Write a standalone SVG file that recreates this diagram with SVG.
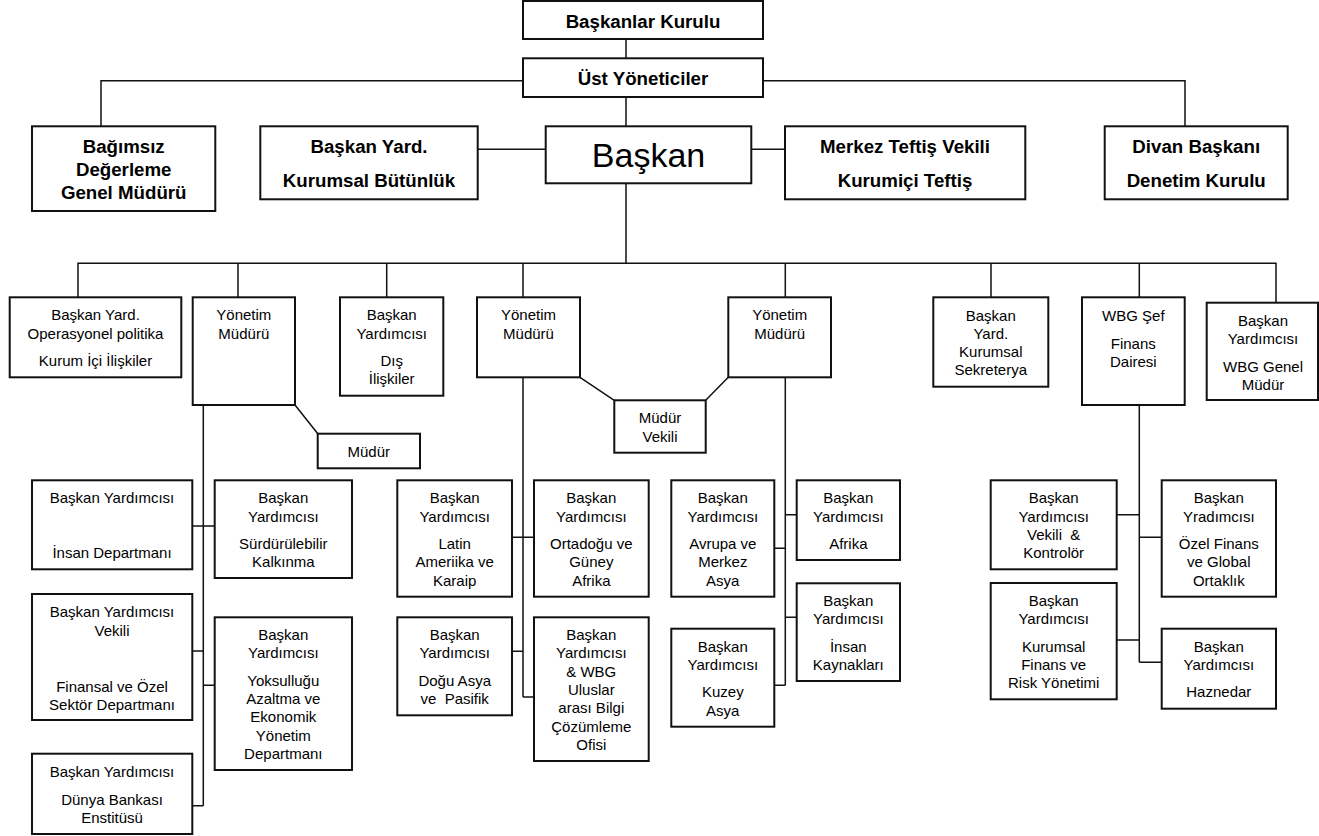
<svg xmlns="http://www.w3.org/2000/svg" width="1319" height="836" viewBox="0 0 1319 836">
  <style>
    .box { fill: #fff; stroke: #111; stroke-width: 2; }
    .wire { fill: none; stroke: #111; stroke-width: 1.5; }
    .hd { font-family: "Liberation Sans", Arial, sans-serif; font-weight: bold; font-size: 18.7px; fill: #000; text-anchor: middle; }
    .big { font-family: "Liberation Sans", Arial, sans-serif; font-size: 34px; fill: #000; text-anchor: middle; }
    .t { font-family: "Liberation Sans", Arial, sans-serif; font-size: 15px; fill: #000; text-anchor: middle; }
  </style>
  <rect width="1319" height="836" fill="#fff"/>

  <!-- connectors -->
  <g id="connectors" class="wire">
    <path d="M626 39V58M626 97V126M101 126V80.7H1185V126M478 149.3H546M751 149.3H785"/>
    <path d="M626 183V263.3M78 297V263.3H1276V302.7M238 263.3V297M386.7 263.3V297M523 263.3V297M785.3 263.3V297M991 263.3V297M1139.3 263.3V297"/>
    <!-- Yönetim Müdürü (left) branch -->
    <path d="M295 405L318 434M203.3 405V805.7M192 526H215M192 651H203.3M203.3 685.3H215M192 805.7H203.3"/>
    <!-- Yönetim Müdürü (middle) branch -->
    <path d="M580 377.3L614.3 400.3M728.3 377.3L705.7 400.3M523 377.3V697M512 537.3H534M512 651.3H523M523 697H534"/>
    <!-- Yönetim Müdürü (right) branch -->
    <path d="M785.3 377.3V685.3M785.3 514.7H797M774 548.3H785.3M785.3 617.3H797M774 685.3H785.3"/>
    <!-- Finans branch -->
    <path d="M1139.3 405V662.3M1117 514.7H1139.3M1139.3 537.3H1162M1117 640H1139.3M1139.3 662.3H1162"/>
  </g>

  <!-- top level -->
  <g id="baskanlar-kurulu">
    <rect class="box" x="523" y="1" width="240" height="38"/>
    <text class="hd" x="643" y="28">Başkanlar Kurulu</text>
  </g>
  <g id="ust-yoneticiler">
    <rect class="box" x="523" y="58.3" width="240" height="38.7"/>
    <text class="hd" x="643" y="85">Üst Yöneticiler</text>
  </g>
  <g id="bagimsiz">
    <rect class="box" x="32" y="126.3" width="183.3" height="84.7"/>
    <text class="hd" x="123.7" y="153.3">Bağımsız</text>
    <text class="hd" x="123.7" y="175.7">Değerleme</text>
    <text class="hd" x="123.7" y="199">Genel Müdürü</text>
  </g>
  <g id="baskan-yard-butunluk">
    <rect class="box" x="260.3" y="126.3" width="217.4" height="73"/>
    <text class="hd" x="369" y="153.3">Başkan Yard.</text>
    <text class="hd" x="369" y="186.7">Kurumsal Bütünlük</text>
  </g>
  <g id="baskan">
    <rect class="box" x="545.7" y="126.3" width="205.6" height="57"/>
    <text class="big" x="648.5" y="166.5">Başkan</text>
  </g>
  <g id="merkez-teftis">
    <rect class="box" x="785" y="126.3" width="240.3" height="73"/>
    <text class="hd" x="905" y="153.3">Merkez Teftiş Vekili</text>
    <text class="hd" x="905" y="186.7">Kurumiçi Teftiş</text>
  </g>
  <g id="divan">
    <rect class="box" x="1104.7" y="126.3" width="183" height="73"/>
    <text class="hd" x="1196.2" y="153.3">Divan Başkanı</text>
    <text class="hd" x="1196.2" y="186.7">Denetim Kurulu</text>
  </g>

  <!-- second level -->
  <g id="operasyonel">
    <rect class="box" x="9.7" y="297.3" width="171.6" height="80"/>
    <text class="t" x="95.5" y="320.3">Başkan Yard.</text>
    <text class="t" x="95.5" y="338.7">Operasyonel politika</text>
    <text class="t" x="95.5" y="366">Kurum İçi İlişkiler</text>
  </g>
  <g id="yonetim-1">
    <rect class="box" x="192.7" y="297.3" width="102.3" height="107.7"/>
    <text class="t" x="243.8" y="320.3">Yönetim</text>
    <text class="t" x="243.8" y="338.7">Müdürü</text>
  </g>
  <g id="dis-iliskiler">
    <rect class="box" x="340" y="297.3" width="103.3" height="98.4"/>
    <text class="t" x="391.7" y="320.3">Başkan</text>
    <text class="t" x="391.7" y="338.7">Yardımcısı</text>
    <text class="t" x="391.7" y="366">Dış</text>
    <text class="t" x="391.7" y="384.3">İlişkiler</text>
  </g>
  <g id="mudur">
    <rect class="box" x="317.7" y="433.7" width="102.3" height="34.6"/>
    <text class="t" x="368.8" y="456.7">Müdür</text>
  </g>
  <g id="yonetim-2">
    <rect class="box" x="477" y="297.3" width="103" height="80"/>
    <text class="t" x="528.5" y="320.3">Yönetim</text>
    <text class="t" x="528.5" y="338.7">Müdürü</text>
  </g>
  <g id="mudur-vekili">
    <rect class="box" x="614.3" y="400.3" width="91.4" height="52.4"/>
    <text class="t" x="660" y="423.3">Müdür</text>
    <text class="t" x="660" y="441.7">Vekili</text>
  </g>
  <g id="yonetim-3">
    <rect class="box" x="728.3" y="297.3" width="102.7" height="80"/>
    <text class="t" x="779.7" y="320.3">Yönetim</text>
    <text class="t" x="779.7" y="338.7">Müdürü</text>
  </g>
  <g id="sekreterya">
    <rect class="box" x="933.3" y="297.3" width="115" height="89.4"/>
    <text class="t" x="990.8" y="320.7">Başkan</text>
    <text class="t" x="990.8" y="339.3">Yard.</text>
    <text class="t" x="990.8" y="357.3">Kurumsal</text>
    <text class="t" x="990.8" y="375">Sekreterya</text>
  </g>
  <g id="finans-dairesi">
    <rect class="box" x="1082" y="297.3" width="102.7" height="107.7"/>
    <text class="t" x="1133.3" y="320.7">WBG Şef</text>
    <text class="t" x="1133.3" y="348.7">Finans</text>
    <text class="t" x="1133.3" y="366.7">Dairesi</text>
  </g>
  <g id="wbg-genel-mudur">
    <rect class="box" x="1206.7" y="302.7" width="111.3" height="97.3"/>
    <text class="t" x="1263" y="325.7">Başkan</text>
    <text class="t" x="1263" y="344">Yardımcısı</text>
    <text class="t" x="1263" y="371.7">WBG Genel</text>
    <text class="t" x="1263" y="390">Müdür</text>
  </g>

  <!-- left branch -->
  <g id="insan-departmani">
    <rect class="box" x="32" y="480.3" width="160.3" height="89"/>
    <text class="t" x="112" y="503.3">Başkan Yardımcısı</text>
    <text class="t" x="112" y="558.3">İnsan Departmanı</text>
  </g>
  <g id="finansal-ozel">
    <rect class="box" x="32" y="594" width="160.3" height="126"/>
    <text class="t" x="112" y="617.3">Başkan Yardımcısı</text>
    <text class="t" x="112" y="635.7">Vekili</text>
    <text class="t" x="112" y="691.7">Finansal ve Özel</text>
    <text class="t" x="112" y="709.7">Sektör Departmanı</text>
  </g>
  <g id="dunya-bankasi">
    <rect class="box" x="32" y="753.7" width="160.3" height="80.3"/>
    <text class="t" x="112" y="777.3">Başkan Yardımcısı</text>
    <text class="t" x="112" y="805.3">Dünya Bankası</text>
    <text class="t" x="112" y="823.3">Enstitüsü</text>
  </g>
  <g id="surdurulebilir">
    <rect class="box" x="214.7" y="480.3" width="137.3" height="97.7"/>
    <text class="t" x="283.3" y="503.3">Başkan</text>
    <text class="t" x="283.3" y="521.7">Yardımcısı</text>
    <text class="t" x="283.3" y="549.3">Sürdürülebilir</text>
    <text class="t" x="283.3" y="567.3">Kalkınma</text>
  </g>
  <g id="yoksullugu">
    <rect class="box" x="214.7" y="617.3" width="137.3" height="152.7"/>
    <text class="t" x="283.3" y="640">Başkan</text>
    <text class="t" x="283.3" y="658.3">Yardımcısı</text>
    <text class="t" x="283.3" y="686">Yoksulluğu</text>
    <text class="t" x="283.3" y="704">Azaltma ve</text>
    <text class="t" x="283.3" y="722">Ekonomik</text>
    <text class="t" x="283.3" y="741">Yönetim</text>
    <text class="t" x="283.3" y="759">Departmanı</text>
  </g>

  <!-- middle branch -->
  <g id="latin-amerika">
    <rect class="box" x="397.3" y="480.3" width="114.7" height="116.4"/>
    <text class="t" x="454.7" y="503.3">Başkan</text>
    <text class="t" x="454.7" y="521.7">Yardımcısı</text>
    <text class="t" x="454.7" y="549.3">Latin</text>
    <text class="t" x="454.7" y="567.3">Ameriika ve</text>
    <text class="t" x="454.7" y="586">Karaip</text>
  </g>
  <g id="ortadogu">
    <rect class="box" x="534" y="480.3" width="114.7" height="116.4"/>
    <text class="t" x="591.3" y="503.3">Başkan</text>
    <text class="t" x="591.3" y="521.7">Yardımcısı</text>
    <text class="t" x="591.3" y="549.3">Ortadoğu ve</text>
    <text class="t" x="591.3" y="567.3">Güney</text>
    <text class="t" x="591.3" y="586">Afrika</text>
  </g>
  <g id="dogu-asya">
    <rect class="box" x="397.3" y="617.3" width="114.7" height="98"/>
    <text class="t" x="454.7" y="640">Başkan</text>
    <text class="t" x="454.7" y="658.3">Yardımcısı</text>
    <text class="t" x="454.7" y="686">Doğu Asya</text>
    <text class="t" x="454.7" y="704" xml:space="preserve">ve  Pasifik</text>
  </g>
  <g id="bilgi-cozumleme">
    <rect class="box" x="534" y="617.3" width="114.7" height="143.7"/>
    <text class="t" x="591.3" y="640">Başkan</text>
    <text class="t" x="591.3" y="658.3">Yardımcısı</text>
    <text class="t" x="591.3" y="677.3">&amp; WBG</text>
    <text class="t" x="591.3" y="695.3">Uluslar</text>
    <text class="t" x="591.3" y="713.3">arası Bilgi</text>
    <text class="t" x="591.3" y="732">Çözümleme</text>
    <text class="t" x="591.3" y="750">Ofisi</text>
  </g>

  <!-- right-middle branch -->
  <g id="avrupa">
    <rect class="box" x="671.3" y="480.3" width="103" height="116.4"/>
    <text class="t" x="722.8" y="503.3">Başkan</text>
    <text class="t" x="722.8" y="521.7">Yardımcısı</text>
    <text class="t" x="722.8" y="549.3">Avrupa ve</text>
    <text class="t" x="722.8" y="567.3">Merkez</text>
    <text class="t" x="722.8" y="586">Asya</text>
  </g>
  <g id="kuzey-asya">
    <rect class="box" x="671.3" y="628.7" width="103" height="98"/>
    <text class="t" x="722.8" y="651.7">Başkan</text>
    <text class="t" x="722.8" y="670">Yardımcısı</text>
    <text class="t" x="722.8" y="697.3">Kuzey</text>
    <text class="t" x="722.8" y="716">Asya</text>
  </g>
  <g id="afrika">
    <rect class="box" x="796.7" y="480.3" width="103.3" height="79.7"/>
    <text class="t" x="848.3" y="503.3">Başkan</text>
    <text class="t" x="848.3" y="521.7">Yardımcısı</text>
    <text class="t" x="848.3" y="549.3">Afrika</text>
  </g>
  <g id="insan-kaynaklari">
    <rect class="box" x="796.7" y="583.3" width="103.3" height="97.7"/>
    <text class="t" x="848.3" y="606">Başkan</text>
    <text class="t" x="848.3" y="624.3">Yardımcısı</text>
    <text class="t" x="848.3" y="652">İnsan</text>
    <text class="t" x="848.3" y="670">Kaynakları</text>
  </g>

  <!-- finance branch -->
  <g id="kontrolor">
    <rect class="box" x="990.7" y="480.3" width="126" height="89"/>
    <text class="t" x="1053.7" y="503.3">Başkan</text>
    <text class="t" x="1053.7" y="521.7">Yardımcısı</text>
    <text class="t" x="1053.7" y="540" xml:space="preserve">Vekili  &amp;</text>
    <text class="t" x="1053.7" y="558.3">Kontrolör</text>
  </g>
  <g id="kurumsal-finans">
    <rect class="box" x="990.7" y="583" width="126" height="116.3"/>
    <text class="t" x="1053.7" y="606">Başkan</text>
    <text class="t" x="1053.7" y="624.3">Yardımcısı</text>
    <text class="t" x="1053.7" y="652">Kurumsal</text>
    <text class="t" x="1053.7" y="670">Finans ve</text>
    <text class="t" x="1053.7" y="688.3">Risk Yönetimi</text>
  </g>
  <g id="ozel-finans">
    <rect class="box" x="1161.7" y="480.3" width="114.3" height="116.4"/>
    <text class="t" x="1218.8" y="503.3">Başkan</text>
    <text class="t" x="1218.8" y="521.7">Yradımcısı</text>
    <text class="t" x="1218.8" y="549.3">Özel Finans</text>
    <text class="t" x="1218.8" y="567.3">ve Global</text>
    <text class="t" x="1218.8" y="586">Ortaklık</text>
  </g>
  <g id="haznedar">
    <rect class="box" x="1161.7" y="628.7" width="114.3" height="80"/>
    <text class="t" x="1218.8" y="651.7">Başkan</text>
    <text class="t" x="1218.8" y="670">Yardımcısı</text>
    <text class="t" x="1218.8" y="697.3">Haznedar</text>
  </g>
</svg>
